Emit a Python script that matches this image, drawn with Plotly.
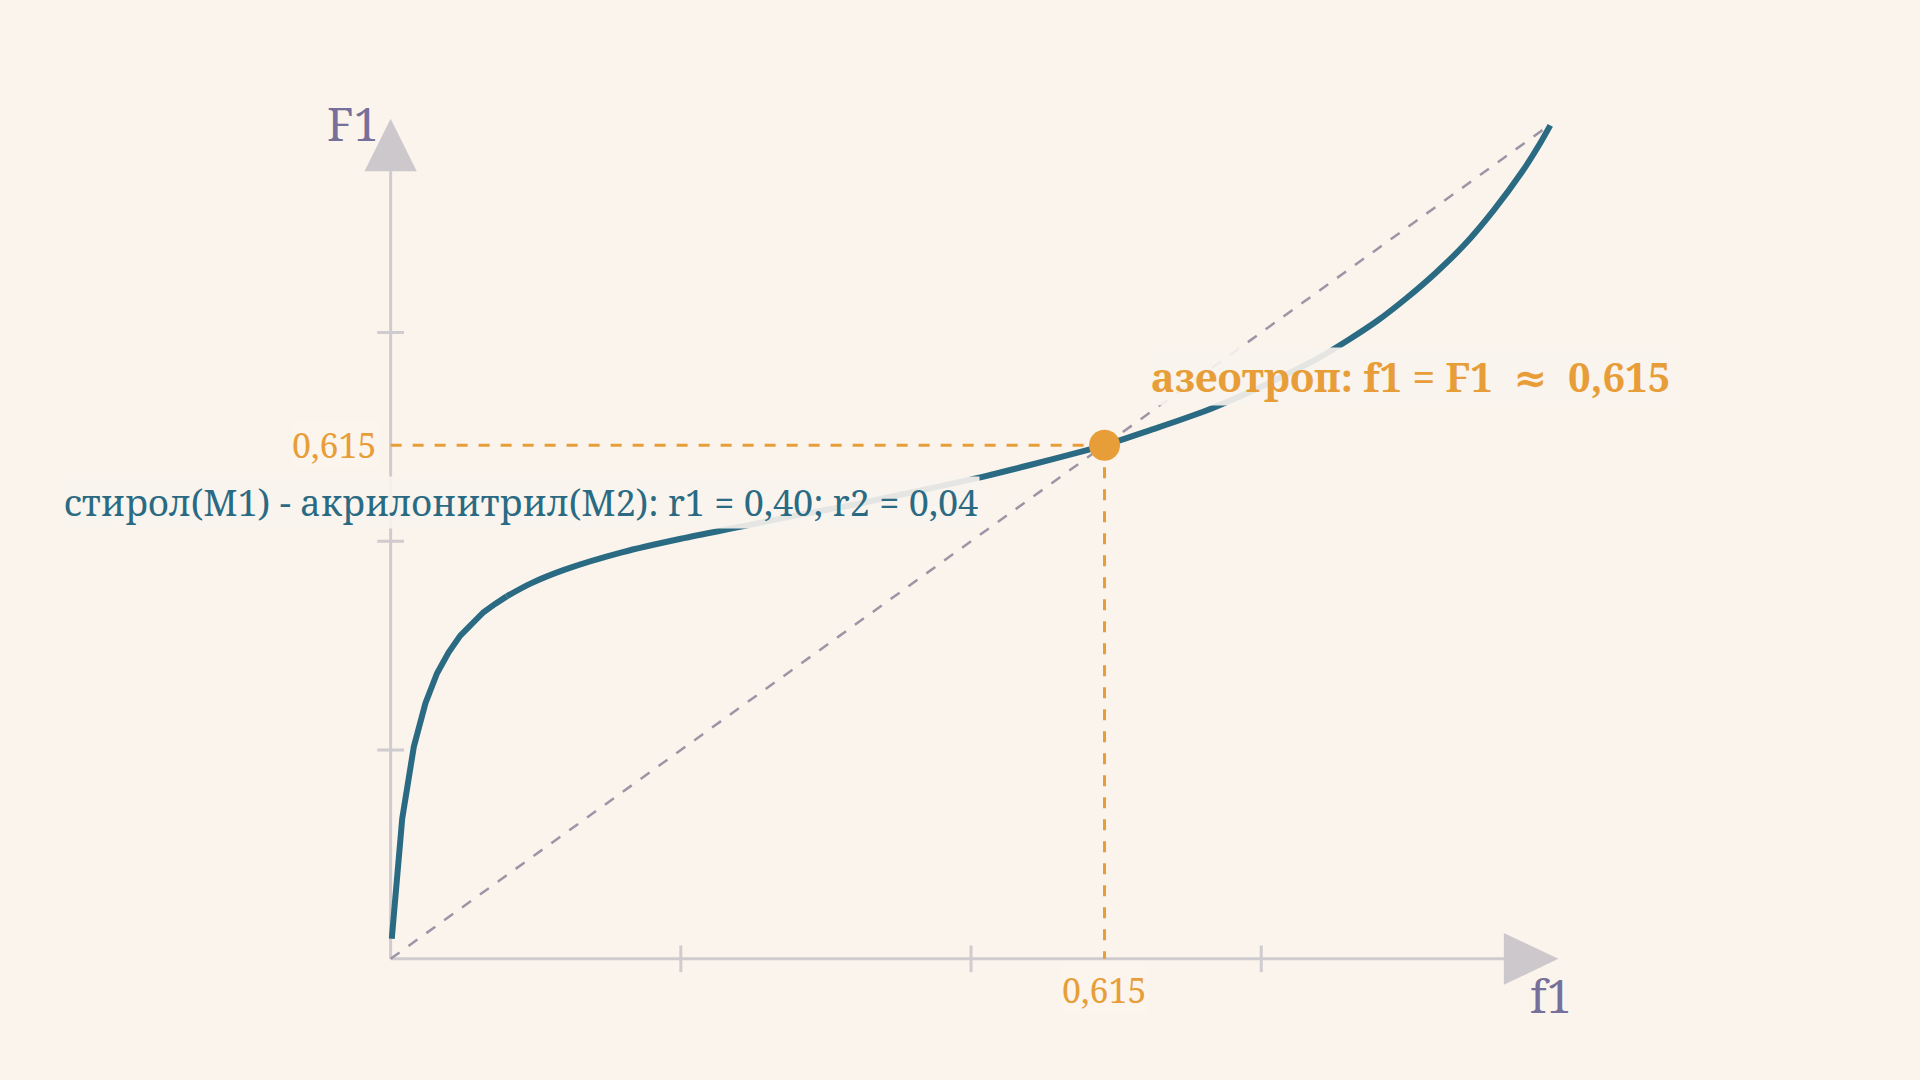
import plotly.graph_objects as go

# -----------------------------
# Data
# -----------------------------
# steep start of the curve (straight segments, as in the picture)
f1_start = [0.001, 0.01, 0.02, 0.03, 0.04, 0.05, 0.06, 0.07, 0.08, 0.09, 0.10]
F1_start = [0.024, 0.168, 0.254, 0.306, 0.342, 0.367, 0.387, 0.402, 0.415, 0.425, 0.434]
# rest of the curve
f1_rest = [0.10, 0.12, 0.15, 0.20, 0.25, 0.30, 0.35, 0.40, 0.45, 0.50, 0.55, 0.60,
           0.615, 0.65, 0.70, 0.75, 0.775, 0.80, 0.825, 0.85, 0.875, 0.90, 0.925,
           0.95, 0.975, 0.99, 0.999]
F1_rest = [0.434, 0.449, 0.466, 0.487, 0.503, 0.517, 0.531, 0.544, 0.559, 0.574, 0.591, 0.609,
           0.615, 0.631, 0.655, 0.685, 0.702, 0.720, 0.741, 0.764, 0.791, 0.821, 0.855,
           0.896, 0.943, 0.976, 0.998]
diag_x = [0, 1]
diag_y = [0, 1]
azeo = 0.615
azeo_text = "0,615"
tick_vals = [0.25, 0.5, 0.75]

series_label = "стирол(М1) - акрилонитрил(М2): r1 = 0,40; r2 = 0,04"
azeo_label = "азеотроп: f1 = F1  ≈  0,615"

# -----------------------------
# Style
# -----------------------------
BG = "#faf4ed"
TEAL = "#2a6b83"
ORANGE = "#e89e38"
GREY_DASH = "#9c95a6"
AXIS = "#d0cbce"
ARROW = "#cdc8cc"
PURPLE = "#77709a"
FONT = "Noto Serif, DejaVu Serif, serif"

# ranges chosen so 0..1 sits where the reference draws it (margins = 0)
x_range = [-0.3365, 1.3175]
y_range = [-0.1451, 1.1481]

fig = go.Figure()

# diagonal f1 = F1
fig.add_trace(go.Scatter(
    x=diag_x, y=diag_y, mode="lines",
    line=dict(color=GREY_DASH, width=2.5, dash="11px,11px"),
    hoverinfo="skip", showlegend=False
))

# orange guides
fig.add_trace(go.Scatter(
    x=[0, azeo], y=[azeo, azeo], mode="lines",
    line=dict(color=ORANGE, width=3, dash="11px,11px"),
    hoverinfo="skip", showlegend=False
))
fig.add_trace(go.Scatter(
    x=[azeo, azeo], y=[azeo, 0], mode="lines",
    line=dict(color=ORANGE, width=3, dash="11px,11px"),
    hoverinfo="skip", showlegend=False
))

# composition curve
fig.add_trace(go.Scatter(
    x=f1_start, y=F1_start, mode="lines",
    line=dict(color=TEAL, width=6),
    showlegend=False
))
fig.add_trace(go.Scatter(
    x=f1_rest, y=F1_rest, mode="lines",
    line=dict(color=TEAL, width=6, shape="spline", smoothing=0.8),
    showlegend=False
))

# azeotrope point
fig.add_trace(go.Scatter(
    x=[azeo], y=[azeo], mode="markers",
    marker=dict(color=ORANGE, size=31),
    showlegend=False
))

# -----------------------------
# Axes drawn by hand (lines, ticks, arrows)
# -----------------------------
shapes = []
shapes.append(dict(type="line", x0=0, y0=0, x1=0.96, y1=0, line=dict(color=AXIS, width=3), layer="below"))
shapes.append(dict(type="line", x0=0, y0=0, x1=0, y1=0.945, line=dict(color=AXIS, width=3), layer="below"))
for t in tick_vals:
    shapes.append(dict(type="line", x0=t, x1=t, y0=-0.016, y1=0.016,
                       line=dict(color=AXIS, width=3), layer="below"))
    shapes.append(dict(type="line", y0=t, y1=t, x0=-0.0115, x1=0.0115,
                       line=dict(color=AXIS, width=3), layer="below"))
# arrow heads
shapes.append(dict(type="path", path="M 0.959 -0.031 L 1.006 0 L 0.959 0.031 Z",
                   fillcolor=ARROW, line=dict(width=0), layer="below"))
shapes.append(dict(type="path", path="M -0.0225 0.943 L 0 1.006 L 0.0225 0.943 Z",
                   fillcolor=ARROW, line=dict(width=0), layer="below"))

annotations = [
    dict(x=0, y=1, text="F1", showarrow=False, xanchor="right", yanchor="middle",
         xshift=-10, font=dict(family=FONT, size=45, color=PURPLE)),
    dict(x=1, y=0, text="f1", showarrow=False, xanchor="center", yanchor="middle",
         yshift=-37, font=dict(family=FONT, size=45, color=PURPLE)),
    dict(x=0, y=azeo, text=azeo_text, showarrow=False, xanchor="right", yanchor="middle",
         xshift=-12, bgcolor="rgba(250,244,237,0.85)",
         font=dict(family=FONT, size=34, color=ORANGE)),
    dict(x=azeo, y=0, text=azeo_text, showarrow=False, xanchor="center", yanchor="middle",
         yshift=-31, bgcolor="rgba(250,244,237,0.85)",
         font=dict(family=FONT, size=34, color=ORANGE)),
    dict(x=azeo, y=azeo, text="<b>" + azeo_label + "</b>", showarrow=False,
         xanchor="left", yanchor="middle", xshift=44, yshift=69,
         bgcolor="rgba(250,244,237,0.9)",
         font=dict(family=FONT, size=40, color=ORANGE)),
    dict(x=0.112, y=0.547, text=series_label, showarrow=False,
         xanchor="center", yanchor="middle", bgcolor="rgba(250,244,237,0.9)",
         font=dict(family=FONT, size=36, color=TEAL)),
]

fig.update_layout(
    width=1920, height=1080,
    paper_bgcolor=BG, plot_bgcolor=BG,
    margin=dict(l=0, r=0, t=0, b=0),
    xaxis=dict(range=x_range, visible=False, fixedrange=True),
    yaxis=dict(range=y_range, visible=False, fixedrange=True),
    shapes=shapes,
    annotations=annotations,
    showlegend=False,
)

fig.write_html(
    "out.html",
    config={"displayModeBar": False},
    post_script="document.body.style.margin='0';document.body.style.background='" + BG + "';",
)
